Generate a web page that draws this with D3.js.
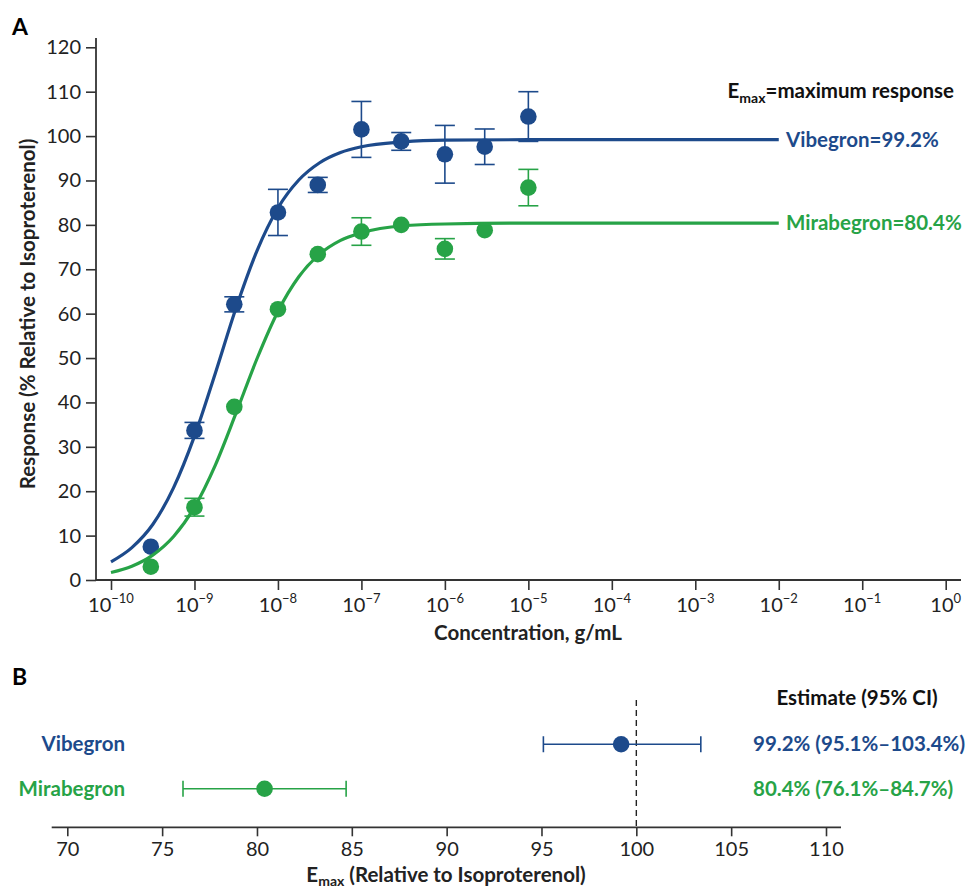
<html lang="en">
<head>
    <meta charset="UTF-8">
    <script src="https://d3js.org/d3.v7.min.js"></script>
    <title>Emax vibegron vs mirabegron</title>
    <style>
        body { margin: 0; background: #fff; }
        text { font-family: Lato, "Open Sans", sans-serif; }
    </style>
</head>
<body>
<script type="text/javascript">

    // panel A: concentration-response points (mean, error)
    const concentrations = [3e-10, 1e-9, 3e-9, 1e-8, 3e-8, 1e-7, 3e-7, 1e-6, 3e-6, 1e-5];
    const vibegronMean = [7.5, 33.7, 62.1, 82.8, 89.0, 101.5, 98.8, 95.9, 97.6, 104.4];
    const vibegronErr = [0, 1.8, 1.7, 5.2, 1.7, 6.3, 2.0, 6.5, 4.0, 5.6];
    const mirabegronMean = [3.0, 16.4, 39.0, 61.0, 73.4, 78.5, 80.0, 74.6, 78.8, 88.4];
    const mirabegronErr = [0, 2.0, 0, 0, 0, 3.1, 0, 2.3, 0, 4.1];

    // fitted curves (log10 concentration, response)
    const curveLogConc = [-10, -9.75, -9.5, -9.25, -9, -8.75, -8.5, -8.25, -8, -7.75, -7.5, -7.25, -7, -6.5, -6, -5, -2];
    const vibegronCurve = [4.1, 7.3, 12.5, 20.8, 32.4, 46.6, 61.4, 74.2, 83.8, 90.1, 94.0, 96.3, 97.6, 98.7, 99.1, 99.2, 99.2];
    const mirabegronCurve = [1.7, 3.1, 5.6, 9.8, 16.4, 25.9, 37.7, 49.9, 60.5, 68.3, 73.4, 76.5, 78.2, 79.8, 80.2, 80.4, 80.4];

    const xTickExponents = [-10, -9, -8, -7, -6, -5, -4, -3, -2, -1, 0];
    const yTicks = [0, 10, 20, 30, 40, 50, 60, 70, 80, 90, 100, 110, 120];

    // panel B: Emax estimates with 95% CI
    const drugs = ["Vibegron", "Mirabegron"];
    const emaxEstimate = [99.2, 80.4];
    const emaxLower = [95.1, 76.1];
    const emaxUpper = [103.4, 84.7];
    const emaxTicks = [70, 75, 80, 85, 90, 95, 100, 105, 110];

    const colors = ["#1d4a8b", "#27a347"];
    const axisColor = "#333";
    const labelSize = 20.5;
    const tickSize = 20;

    let svg = d3.select("body").append("svg")
        .attr("width", 965)
        .attr("height", 890);

    // ---------- Panel A ----------
    let x = d3.scaleLog().domain([1e-10, 1]).range([111, 945.7]);
    let y = d3.scaleLinear().domain([0, 120]).range([580, 47.3]);

    svg.append("text").attr("x", 12).attr("y", 35)
        .attr("font-size", 23).attr("font-weight", "bold").text("A");

    let yAxis = svg.append("g")
        .attr("transform", "translate(96,0)")
        .call(d3.axisLeft(y).tickValues(yTicks).tickSize(10).tickPadding(5));
    yAxis.select(".domain").remove();
    yAxis.selectAll(".tick line").attr("stroke", axisColor).attr("stroke-width", 1.6);
    yAxis.selectAll(".tick text").attr("font-size", tickSize).attr("fill", "#222")
        .style("font-family", "Lato, sans-serif");

    svg.append("line").attr("x1", 96).attr("x2", 96).attr("y1", 38).attr("y2", 580)
        .attr("stroke", axisColor).attr("stroke-width", 1.8);
    svg.append("line").attr("x1", 96).attr("x2", 961).attr("y1", 580).attr("y2", 580)
        .attr("stroke", axisColor).attr("stroke-width", 1.8);

    let xAxis = svg.append("g")
        .attr("transform", "translate(0,580)")
        .call(d3.axisBottom(x).tickValues(xTickExponents.map(e => Math.pow(10, e)))
            .tickSize(10).tickFormat(""));
    xAxis.select(".domain").remove();
    xAxis.selectAll(".tick line").attr("stroke", axisColor).attr("stroke-width", 1.6);

    let xLabels = svg.append("g").selectAll("text")
        .data(xTickExponents)
        .join("text")
        .attr("x", d => x(Math.pow(10, d)))
        .attr("y", 612)
        .attr("text-anchor", "middle")
        .attr("font-size", tickSize)
        .attr("fill", "#222");
    xLabels.append("tspan").text("10");
    xLabels.append("tspan")
        .attr("dy", -9)
        .attr("font-size", 13)
        .text(d => d === 0 ? "0" : "\u2212" + Math.abs(d));

    svg.append("text")
        .attr("x", 528).attr("y", 640)
        .attr("text-anchor", "middle")
        .attr("font-size", labelSize).attr("font-weight", "bold").attr("fill", "#222")
        .text("Concentration, g/mL");

    svg.append("text")
        .attr("transform", "translate(35,314) rotate(-90)")
        .attr("text-anchor", "middle")
        .attr("font-size", labelSize).attr("font-weight", "bold").attr("fill", "#222")
        .text("Response (% Relative to Isoproterenol)");

    let series = [
        { name: drugs[0], mean: vibegronMean, err: vibegronErr, curve: vibegronCurve, emax: emaxEstimate[0], color: colors[0] },
        { name: drugs[1], mean: mirabegronMean, err: mirabegronErr, curve: mirabegronCurve, emax: emaxEstimate[1], color: colors[1] }
    ];

    let line = d3.line()
        .x(d => x(Math.pow(10, d[0])))
        .y(d => y(d[1]))
        .curve(d3.curveMonotoneX);

    series.forEach(function (s) {
        let g = svg.append("g");
        g.append("path")
            .attr("d", line(curveLogConc.map((c, i) => [c, s.curve[i]])))
            .attr("fill", "none")
            .attr("stroke", s.color)
            .attr("stroke-width", 3.2);

        let pts = concentrations.map((c, i) => ({ c: c, m: s.mean[i], e: s.err[i] }));
        let bars = g.selectAll(".err").data(pts.filter(p => p.e > 0)).join("g").attr("class", "err")
            .attr("stroke", s.color).attr("stroke-width", 1.6);
        bars.append("line")
            .attr("x1", d => x(d.c)).attr("x2", d => x(d.c))
            .attr("y1", d => y(d.m - d.e)).attr("y2", d => y(d.m + d.e));
        bars.append("line")
            .attr("x1", d => x(d.c) - 10).attr("x2", d => x(d.c) + 10)
            .attr("y1", d => y(d.m + d.e)).attr("y2", d => y(d.m + d.e));
        bars.append("line")
            .attr("x1", d => x(d.c) - 10).attr("x2", d => x(d.c) + 10)
            .attr("y1", d => y(d.m - d.e)).attr("y2", d => y(d.m - d.e));

        g.selectAll("circle").data(pts).join("circle")
            .attr("cx", d => x(d.c))
            .attr("cy", d => y(d.m))
            .attr("r", 8.3)
            .attr("fill", s.color);

        g.append("text")
            .attr("x", 786)
            .attr("y", y(s.emax) + 7)
            .attr("font-size", labelSize).attr("font-weight", "bold")
            .attr("fill", s.color)
            .text(s.name + "=" + s.emax + "%");
    });

    let emaxNote = svg.append("text")
        .attr("x", 954).attr("y", 98)
        .attr("text-anchor", "end")
        .attr("font-size", labelSize).attr("font-weight", "bold").attr("fill", "#111");
    emaxNote.append("tspan").text("E");
    emaxNote.append("tspan").attr("dy", 5).attr("font-size", 14).text("max");
    emaxNote.append("tspan").attr("dy", -5).text("=maximum response");

    // ---------- Panel B ----------
    let xb = d3.scaleLinear().domain([70, 110]).range([67.3, 826]);
    let yb = d3.scaleBand().domain(drugs).range([722, 811]);
    const axisY = 827.3;

    svg.append("text").attr("x", 12).attr("y", 685)
        .attr("font-size", 23).attr("font-weight", "bold").text("B");

    svg.append("line").attr("x1", 51.7).attr("x2", 841).attr("y1", axisY).attr("y2", axisY)
        .attr("stroke", axisColor).attr("stroke-width", 1.8);

    let bAxis = svg.append("g")
        .attr("transform", "translate(0," + axisY + ")")
        .call(d3.axisBottom(xb).tickValues(emaxTicks).tickSize(9).tickPadding(6));
    bAxis.select(".domain").remove();
    bAxis.selectAll(".tick line").attr("stroke", axisColor).attr("stroke-width", 1.6);
    bAxis.selectAll(".tick text").attr("font-size", tickSize).attr("fill", "#222")
        .style("font-family", "Lato, sans-serif");

    svg.append("line")
        .attr("x1", xb(100)).attr("x2", xb(100))
        .attr("y1", 700).attr("y2", axisY)
        .attr("stroke", "#222").attr("stroke-width", 1.4)
        .attr("stroke-dasharray", "6,4");

    let bTitle = svg.append("text")
        .attr("x", 446).attr("y", 882)
        .attr("text-anchor", "middle")
        .attr("font-size", labelSize).attr("font-weight", "bold").attr("fill", "#222");
    bTitle.append("tspan").text("E");
    bTitle.append("tspan").attr("dy", 4).attr("font-size", 14).text("max");
    bTitle.append("tspan").attr("dy", -4).text(" (Relative to Isoproterenol)");

    svg.append("text")
        .attr("x", 857).attr("y", 705)
        .attr("text-anchor", "middle")
        .attr("font-size", labelSize).attr("font-weight", "bold").attr("fill", "#111")
        .text("Estimate (95% CI)");

    drugs.forEach(function (d, i) {
        let cy = yb(d) + yb.bandwidth() / 2;
        let g = svg.append("g").attr("stroke", colors[i]).attr("stroke-width", 1.6);
        g.append("line").attr("x1", xb(emaxLower[i])).attr("x2", xb(emaxUpper[i])).attr("y1", cy).attr("y2", cy);
        g.append("line").attr("x1", xb(emaxLower[i])).attr("x2", xb(emaxLower[i])).attr("y1", cy - 8).attr("y2", cy + 8);
        g.append("line").attr("x1", xb(emaxUpper[i])).attr("x2", xb(emaxUpper[i])).attr("y1", cy - 8).attr("y2", cy + 8);
        svg.append("circle").attr("cx", xb(emaxEstimate[i])).attr("cy", cy).attr("r", 8.3).attr("fill", colors[i]);

        svg.append("text")
            .attr("x", 125).attr("y", cy + 7)
            .attr("text-anchor", "end")
            .attr("font-size", labelSize).attr("font-weight", "bold").attr("fill", colors[i])
            .text(d);

        svg.append("text")
            .attr("x", 753).attr("y", cy + 7)
            .attr("font-size", labelSize).attr("font-weight", "bold").attr("fill", colors[i])
            .text(emaxEstimate[i] + "% (" + emaxLower[i] + "%\u2013" + emaxUpper[i] + "%)");
    });

</script>
</body>
</html>
